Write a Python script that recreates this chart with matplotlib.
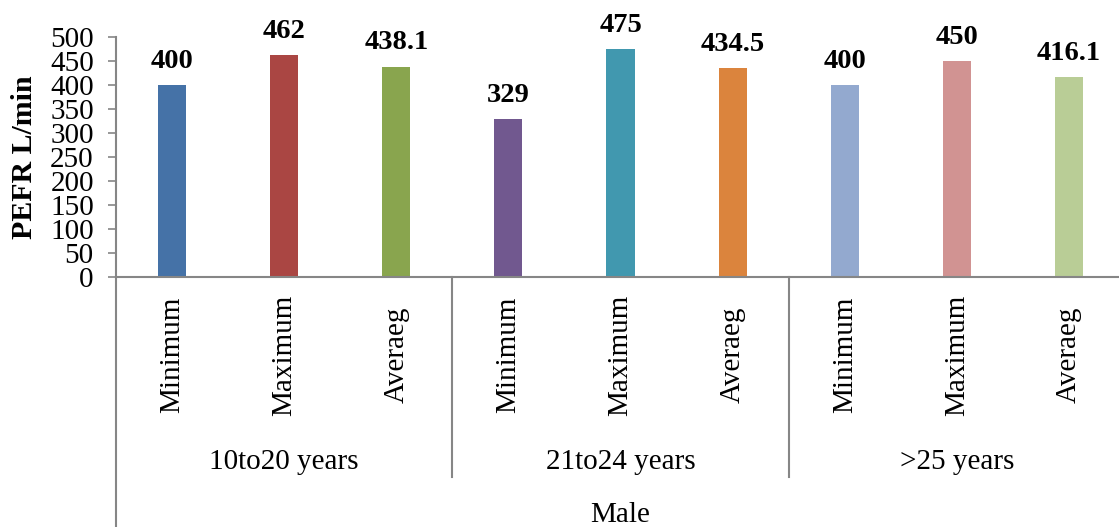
import matplotlib
matplotlib.use("Agg")
import matplotlib.pyplot as plt
from matplotlib.lines import Line2D

# values (PEFR L/min, males)
groups = ["10to20 years", "21to24 years", ">25 years"]
stats = ["Minimum", "Maximum", "Averaeg"]
values = [400, 462, 438.1, 329, 475, 434.5, 400, 450, 416.1]
value_labels = ["400", "462", "438.1", "329", "475", "434.5", "400", "450", "416.1"]
colors = ["#4572A7", "#AA4643", "#89A54E", "#71588F", "#4198AF",
          "#DB843D", "#93A9CF", "#D19392", "#B9CD96"]
yticks = [0, 50, 100, 150, 200, 250, 300, 350, 400, 450, 500]

plt.rcParams['font.family'] = ['Liberation Serif', 'DejaVu Serif']
axis_gray = "#868686"
fs = 21

W, H = 1119, 527
fig = plt.figure(figsize=(W/100, H/100), dpi=100)
# axis runs past the right edge of the picture, like the cropped original
ax = fig.add_axes([116/W, (H-277)/H, (1125-116)/W, 240/H])

n = len(values)
xs = list(range(n))
ax.bar(xs, values, width=0.25, color=colors, zorder=2)
for x, v, lab in zip(xs, values, value_labels):
    ax.annotate(lab, (x, v), xytext=(0, 12.5), textcoords="offset points",
                ha="center", va="baseline", fontsize=20.5, fontweight="bold")

ax.set_xlim(-0.5, n - 0.5)
ax.set_ylim(0, 500)
ax.set_yticks(yticks)
ax.tick_params(axis="y", labelsize=fs, length=6, width=1.2, color=axis_gray, pad=10)
ax.set_xticks([])
for s in ["top", "right"]:
    ax.spines[s].set_visible(False)
for s in ["left", "bottom"]:
    ax.spines[s].set_color(axis_gray)
    ax.spines[s].set_linewidth(1.5)

ax.set_ylabel("PEFR L/min", fontsize=21.5, fontweight="bold")
ax.yaxis.set_label_coords(-0.077, 0.5)

# multi-level category axis below the plot
tr = ax.get_xaxis_transform()
ylab = (277 - 355) / 240
ygrp = (277 - 462) / 240
ysep = (277 - 477) / 240
ybot = (277 - 530) / 240
for i, x in enumerate(xs):
    ax.text(x, ylab, stats[i % 3], transform=tr, rotation=90,
            ha="center", va="center", fontsize=fs)
for g, name in enumerate(groups):
    ax.text(g*3 + 1, ygrp, name, transform=tr, ha="center", va="center", fontsize=fs)
    if g > 0:
        ax.add_line(Line2D([g*3 - 0.5]*2, [0, ysep], transform=tr, color=axis_gray,
                           lw=1.5, clip_on=False))
ax.add_line(Line2D([-0.5]*2, [0, ybot], transform=tr, color=axis_gray, lw=1.5, clip_on=False))
ax.text((n - 1)/2, (277 - 515)/240, "Male", transform=tr, ha="center", va="center",
        fontsize=fs)

fig.savefig("out.png", dpi=100)
